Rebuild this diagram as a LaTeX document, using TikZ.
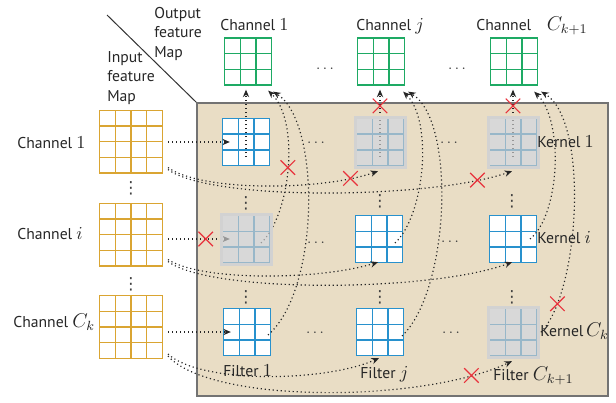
\documentclass[tikz,border=0pt]{standalone}
\usepackage{fontspec}
\setsansfont{PT Sans}
\newfontfamily\symfont{DejaVu Sans}
\usetikzlibrary{arrows.meta,calc,shapes.misc}
\definecolor{inorange}{RGB}{218,165,50}
\definecolor{outgreen}{RGB}{30,170,100}
\definecolor{fblue}{RGB}{40,145,205}
\definecolor{panelbeige}{RGB}{233,221,197}
\definecolor{crossred}{RGB}{232,50,60}
\newcommand{\idx}[1]{{\fontsize{10.6}{12}\selectfont$#1$}}
\tikzset{
  fmap/.style 2 args={draw=#1, fill=white, line width=0.8pt, inner sep=0pt,
    path picture={\foreach \t in {#2}{
      \draw[#1, line width=0.8pt] ($(path picture bounding box.south west)!\t!(path picture bounding box.south east)$) -- ($(path picture bounding box.north west)!\t!(path picture bounding box.north east)$);
      \draw[#1, line width=0.8pt] ($(path picture bounding box.south west)!\t!(path picture bounding box.north west)$) -- ($(path picture bounding box.south east)!\t!(path picture bounding box.north east)$);}}},
  inmap/.style={fmap={inorange}{0.25,0.5,0.75}, minimum size=37.6pt},
  outmap/.style={fmap={outgreen}{0.3333,0.6667}, minimum size=28.2pt},
  filt/.style={fmap={fblue}{0.3333,0.6667}, minimum size=28.2pt},
  masked/.style={draw=gray!35, line width=1.8pt, fill=gray!43, fill opacity=0.7, minimum size=30pt, inner sep=0pt},
  panel/.style={draw=black!55, line width=0.9pt, fill=panelbeige, minimum width=246.6pt, minimum height=175.8pt, inner sep=0pt},
  flow/.style={black!85, line width=0.7pt, dash pattern=on 0.7pt off 1.7pt, -{Stealth[length=4.5pt,width=3.8pt]}},
  cut/.style={cross out, solid, draw=crossred, line width=0.7pt, minimum size=8pt, inner sep=0pt},
  lbl/.style={font=\sffamily\fontsize{9.4}{11.7}\selectfont, text=black!85, inner sep=0pt},
  hdots/.style={font=\small, text=black!75, inner sep=0pt, anchor=base},
  vdots/.style={font=\symfont\fontsize{10}{12}\selectfont, text=black!75, inner sep=0pt},
}
\begin{document}
\begin{tikzpicture}[x=0.6pt, y=-0.6pt]
\useasboundingbox (0,0) rectangle (616,402);
% board and corner line
\node[panel] (board) at (402.5,249.5) {};
\coordinate (corner) at (107,15);
\draw[black!80, line width=0.6pt] (corner) -- (board.north west);
% input feature maps
\node[inmap] (in1)  at (131,141.5) {};
\node[inmap] (ini)  at (131,234.5) {};
\node[inmap] (inCk) at (131,327)   {};
% output feature maps
\node[outmap] (out1) at (248,61.5) {};
\node[outmap] (outj) at (381,61.5) {};
\node[outmap] (outC) at (514,61.5) {};
% filters
\node[filt] (f11) at (246,142) {};
\node[filt] (f12) at (380,142) {};
\node[filt] (f13) at (513,142) {};
\node[filt] (f21) at (246,239) {};
\node[filt] (f22) at (379,239) {};
\node[filt] (f23) at (513,239) {};
\node[filt] (f31) at (247,332) {};
\node[filt] (f32) at (380,332) {};
\node[filt] (f33) at (513,332) {};
% dots
\node[vdots] (vin1) at (131,188) {⋮};
\node[vdots] (vin2) at (131,284) {⋮};
\node[vdots] (v11) at (246,203) {⋮};
\node[vdots] (v12) at (246,297) {⋮};
\node[vdots] (v21) at (380,201) {⋮};
\node[vdots] (v22) at (380,297) {⋮};
\node[vdots] (v31) at (512,201) {⋮};
\node[vdots] (v32) at (512,297) {⋮};
\node[hdots] (hout1) at (325,73) {$\cdots$};
\node[hdots] (hout2) at (457,72) {$\cdots$};
\node[hdots] (h11) at (316,146) {$\cdots$};
\node[hdots] (h12) at (449,146) {$\cdots$};
\node[hdots] (h21) at (316,246) {$\cdots$};
\node[hdots] (h22) at (450,245) {$\cdots$};
\node[hdots] (h31) at (315,336) {$\cdots$};
\node[hdots] (h32) at (451,336) {$\cdots$};
% input to filters
\draw[flow] ($(in1.east |- f11.west)+(5,0)$) -- ($(f11.west)+(8,0)$);
\draw[flow] ($(ini.east |- f21.west)+(5,0)$) -- node[cut, pos=0.61] (xi1) {} ($(f21.west)+(8,0)$);
\draw[flow] ($(inCk.east |- f31.west)+(5,0)$) -- ($(f31.west)+(8,0)$);
\draw[flow] ($(in1.south east)+(5,-6)$) .. controls +(33,24) and +(-58,20) .. node[cut, pos=0.86] (x12) {} ($(f12.south)+(-2,5)$);
\draw[flow] ($(in1.south east)+(5,-4)$) .. controls +(43,32) and +(-81,28) .. node[cut, pos=0.88] (x13) {} ($(f13.south)+(-1,5)$);
\draw[flow] ($(ini.south east)+(5,-7)$) .. controls +(33,22) and +(-58,18) .. ($(f22.south)+(-1,-1)$);
\draw[flow] ($(ini.south east)+(5,-5)$) .. controls +(43,32) and +(-81,30) .. ($(f23.south)+(-1,-1)$);
\draw[flow] ($(inCk.south east)+(5,-5)$) .. controls +(33,30) and +(-55,24) .. ($(f32.south)+(-1,2)$);
\draw[flow] ($(inCk.south east)+(5,-3)$) .. controls +(43,48) and +(-90,42) .. node[cut, pos=0.87] (x33) {} ($(f33.south)+(-1,5)$);
% filters to outputs
\draw[flow] ($(f11.south)+(0,-9)$) -- ($(f11.south |- out1.south)+(0,4)$);
\draw[flow] ($(f12.south)+(0,-9)$) -- node[cut, pos=0.76] (xo12) {} ($(f12.south |- outj.south)+(0,4)$);
\draw[flow] ($(f13.south)+(0,-9)$) -- node[cut, pos=0.76] (xo13) {} ($(f13.south |- outC.south)+(0,4)$);
\draw[flow] ($(f21)+(15,4)$) .. controls +(30,-28) and +(32,30) .. node[cut, pos=0.5] (xo21) {} ($(out1.south east)+(-4,5)$);
\draw[flow] ($(f31)+(21,3)$) .. controls +(52,-45) and +(48,30) .. ($(out1.south east)+(1,6)$);
\draw[flow] ($(f22)+(16,4)$) .. controls +(30,-28) and +(30,29) .. ($(outj.south east)+(-2,6)$);
\draw[flow] ($(f32)+(22,4)$) .. controls +(48,-46) and +(48,29) .. ($(outj.south east)+(3,6)$);
\draw[flow] ($(f23)+(17,0)$) .. controls +(30,-24) and +(30,29) .. ($(outC.south east)+(-4,6)$);
\draw[flow] ($(f33)+(25,3)$) .. controls +(42,-35) and +(49,29) .. node[cut, pos=0.18] (xo33) {} ($(outC.south east)+(3,6)$);
% dropped kernels
\node[masked] (m12) at (f12) {};
\node[masked] (m13) at (f13) {};
\node[masked] (m21) at (f21) {};
\node[masked] (m33) at (f33) {};
% labels
\node[lbl, anchor=north west, align=left] (inlbl)  at (107,51) {Input\\feature\\Map};
\node[lbl, anchor=north west, align=left] (outlbl) at (154,7)  {Output\\feature\\Map};
\node[lbl, anchor=base west] (lin1)  at (17,148)   {Channel \idx{1}};
\node[lbl, anchor=base west] (lini)  at (17,239)   {Channel \idx{i}};
\node[lbl, anchor=base west] (linCk) at (13,327.5) {Channel {\large$C_k$}};
\node[lbl, anchor=base west] (lout1) at (220,31) {Channel \idx{1}};
\node[lbl, anchor=base west] (loutj) at (356,31) {Channel \idx{j}};
\node[lbl, anchor=base west] (loutC) at (476,31) {Channel\quad{\large$C_{k+1}$}};
\node[lbl, anchor=base west] (lk1) at (537,147.5) {Kernel \idx{1}};
\node[lbl, anchor=base west] (lki) at (537,243)   {Kernel \idx{i}};
\node[lbl, anchor=base west] (lkC) at (540,336.5) {Kernel\,{\large$C_k$}};
\node[lbl, anchor=base west] (lf1) at (223,376.5) {Filter \idx{1}};
\node[lbl, anchor=base west] (lfj) at (360,378)   {Filter \idx{j}};
\node[lbl, anchor=base west] (lfC) at (493,380)   {Filter {\large$C_{k+1}$}};
\end{tikzpicture}
\end{document}
